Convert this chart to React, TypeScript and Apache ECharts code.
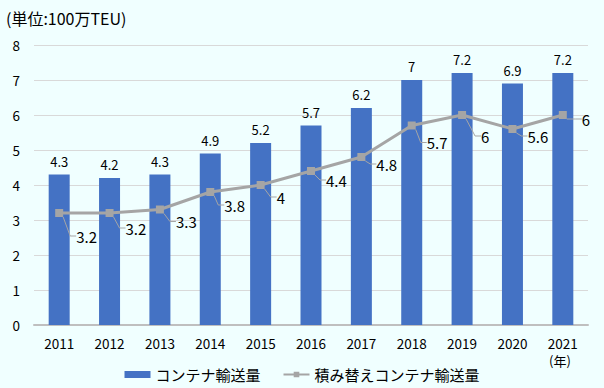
import React, { useEffect, useRef } from "react";
import * as echarts from "echarts";

const categories = ["2011", "2012", "2013", "2014", "2015", "2016", "2017", "2018", "2019", "2020", "2021"];
const containerVolume = [4.3, 4.2, 4.3, 4.9, 5.2, 5.7, 6.2, 7, 7.2, 6.9, 7.2];
const transshipmentVolume = [3.2, 3.2, 3.3, 3.8, 4, 4.4, 4.8, 5.7, 6, 5.6, 6];
const seriesNames = ["コンテナ輸送量", "積み替えコンテナ輸送量"];
const yTicks = [0, 1, 2, 3, 4, 5, 6, 7, 8];
const unitLabel = "(単位:100万TEU)";
const yearLabel = "(年)";

// label offsets (style) for line labels
const labelDx = [8, 7, 7, 5, 7, 6, 6, 6, 10, 6, 10];
const labelDy = [23, 15, 12, 13, 12, 9, 7, 17, 21, 7, 4];

const FONT = "'Noto Sans CJK JP', 'Liberation Sans', sans-serif";

export default function App() {
  const ref = useRef<HTMLDivElement>(null);
  useEffect(() => {
    if (!ref.current) return;
    const chart = echarts.init(ref.current, undefined, { renderer: "svg" });
    chart.setOption({
      animation: false,
      backgroundColor: "#F0FFFF",
      textStyle: { fontFamily: FONT, color: "#000" },
      graphic: [
        { type: "text", left: 6, top: 10, style: { text: unitLabel, fontSize: 16, fill: "#000", fontFamily: FONT } },
        { type: "text", left: 549, top: 354, style: { text: yearLabel, fontSize: 13, fill: "#000", fontFamily: FONT } },
      ],
      grid: { left: 34, right: 16, top: 45, bottom: 63, containLabel: false },
      legend: {
        top: 362,
        left: "center",
        itemGap: 22,
        itemWidth: 26,
        itemHeight: 7,
        textStyle: { fontSize: 15, color: "#000", fontFamily: FONT },
        data: [
          { name: seriesNames[0], icon: "rect" },
          { name: seriesNames[1] },
        ],
      },
      xAxis: {
        type: "category",
        data: categories,
        axisTick: { show: false },
        axisLine: { lineStyle: { color: "#BFBFBF", width: 2 } },
        axisLabel: { fontSize: 13.5, color: "#000", margin: 11, fontFamily: FONT },
      },
      yAxis: {
        type: "value",
        min: yTicks[0],
        max: yTicks[yTicks.length - 1],
        interval: 1,
        axisLine: { show: false },
        axisTick: { show: false },
        splitLine: { lineStyle: { color: "#D9D9D9", width: 1 } },
        axisLabel: { fontSize: 13.5, color: "#000", margin: 14, fontFamily: FONT },
      },
      series: [
        {
          name: seriesNames[0],
          type: "bar",
          data: containerVolume,
          barWidth: 21,
          itemStyle: { color: "#4472C4" },
          label: { show: true, position: "top", distance: 7, fontSize: 13, color: "#000", fontFamily: FONT },
        },
        {
          name: seriesNames[1],
          type: "line",
          data: transshipmentVolume,
          symbol: "rect",
          symbolSize: 8,
          lineStyle: { color: "#A5A5A5", width: 3 },
          itemStyle: { color: "#A5A5A5" },
          label: { show: true, position: "right", distance: 5, fontSize: 15, color: "#000", fontFamily: FONT },
          labelLine: { show: true, length2: 6, lineStyle: { color: "#A5A5A5", width: 1 } },
          labelLayout: (p: any) => ({ dx: labelDx[p.dataIndex], dy: labelDy[p.dataIndex] }),
        },
      ],
    });
    return () => chart.dispose();
  }, []);
  return <div ref={ref} style={{ width: 604, height: 388, position: "absolute", left: 0, top: 0 }} />;
}
